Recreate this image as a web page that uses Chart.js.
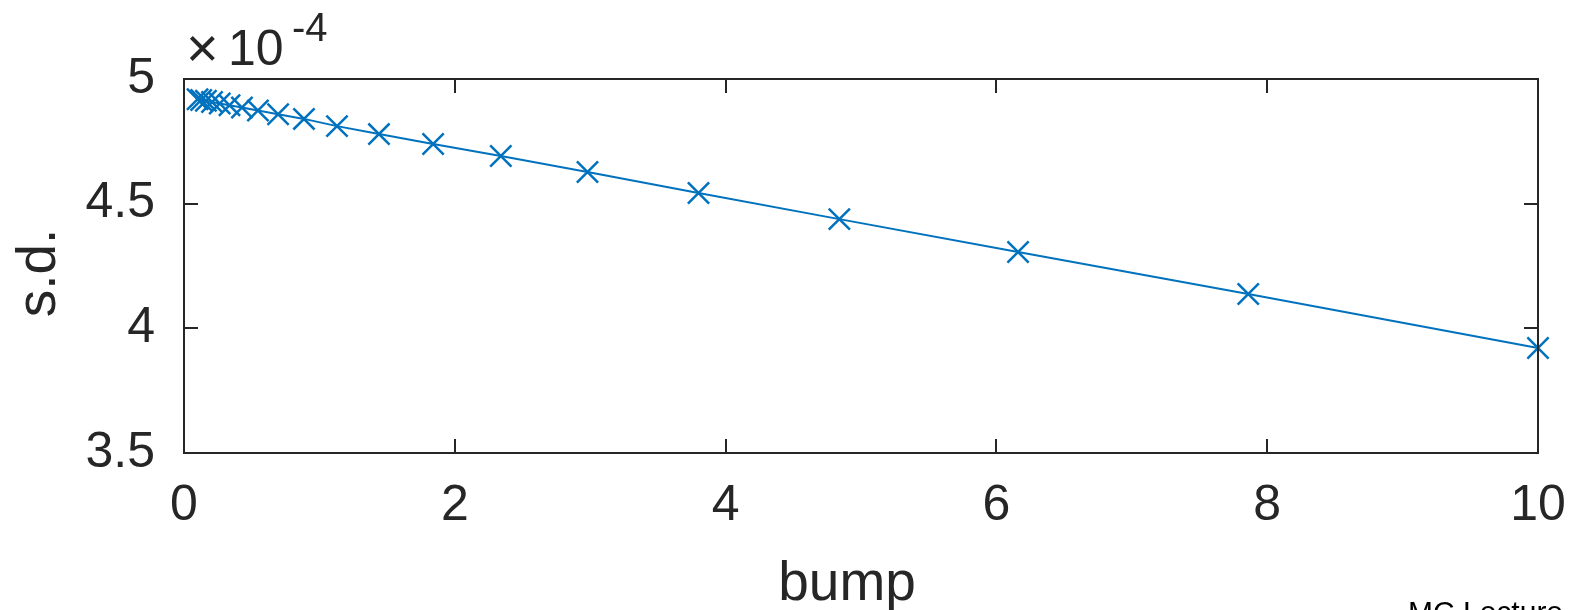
<!DOCTYPE html>
<html><head><meta charset="utf-8">
<script src="https://cdn.jsdelivr.net/npm/chart.js@4.4.1/dist/chart.umd.min.js"></script>
<style>html,body{margin:0;padding:0;background:#fff;overflow:hidden}#wrap{width:1570px;height:610px;position:relative}</style>
</head><body><div id="wrap"><canvas id="c" width="1570" height="610"></canvas></div>
<script>
// bump values (x) and standard deviation in units of 1e-4 (y)
const bump = [0.100, 0.127, 0.162, 0.207, 0.264, 0.336, 0.428, 0.546, 0.695, 0.886, 1.13, 1.44, 1.84, 2.34, 2.98, 3.80, 4.84, 6.16, 7.86, 10.0];
const sdE4 = [4.919, 4.916, 4.913, 4.908, 4.902, 4.895, 4.886, 4.874, 4.859, 4.840, 4.811, 4.779, 4.739, 4.691, 4.627, 4.543, 4.438, 4.306, 4.138, 3.921];
const xTicks = [0, 2, 4, 6, 8, 10];
const yTicks = [3.5, 4, 4.5, 5];
const xTitle = 'bump';
const yTitle = 's.d.';
const expBase = '10';
const expPow = '-4';
const footText = 'MC Lecture';

const TXT = '#262626';
const BLUE = '#0072BD';
const FONT = '"Liberation Sans", Arial, Helvetica, sans-serif';

const frame = {
  id: 'frame',
  afterDatasetsDraw(chart) {
    const {ctx, chartArea: a, scales: {x, y}} = chart;
    ctx.save();
    ctx.strokeStyle = TXT;
    ctx.lineWidth = 2;
    ctx.beginPath();
    const L = 14;
    xTicks.forEach(v => {
      const px = Math.round(x.getPixelForValue(v));
      ctx.moveTo(px, a.bottom); ctx.lineTo(px, a.bottom - L);
      ctx.moveTo(px, a.top); ctx.lineTo(px, a.top + L);
    });
    yTicks.forEach(v => {
      const py = Math.round(y.getPixelForValue(v));
      ctx.moveTo(a.left, py); ctx.lineTo(a.left + L, py);
      ctx.moveTo(a.right, py); ctx.lineTo(a.right - L, py);
    });
    ctx.stroke();
    ctx.strokeRect(a.left, a.top, a.right - a.left, a.bottom - a.top);
    ctx.restore();
  },
  afterDraw(chart) {
    const {ctx} = chart;
    ctx.save();
    ctx.fillStyle = TXT;
    ctx.textBaseline = 'alphabetic';
    // x axis title
    ctx.font = '55px ' + FONT;
    ctx.textAlign = 'center';
    ctx.fillText(xTitle, 847, 600);
    // y axis title
    ctx.save();
    ctx.translate(55, 273);
    ctx.rotate(-Math.PI / 2);
    ctx.fillText(yTitle, 0, 0);
    ctx.restore();
    // exponent
    ctx.textAlign = 'left';
    ctx.font = '56px ' + FONT;
    ctx.fillText('\u00d7', 186, 67);
    ctx.font = '50px ' + FONT;
    ctx.fillText(expBase, 228, 65);
    ctx.font = '40px ' + FONT;
    ctx.fillText(expPow, 292, 41);
    // footer (cut by the edge)
    ctx.fillStyle = '#000';
    ctx.font = '30px ' + FONT;
    ctx.fillText(footText, 1408, 622);
    ctx.restore();
  }
};

new Chart(document.getElementById('c'), {
  type: 'scatter',
  data: {
    datasets: [{
      data: bump.map((b, i) => ({x: b, y: sdE4[i]})),
      showLine: true,
      borderColor: BLUE,
      backgroundColor: BLUE,
      borderWidth: 2,
      pointStyle: 'crossRot',
      pointRadius: 15,
      pointBorderWidth: 2.5,
      pointBorderColor: BLUE,
      pointHoverRadius: 15,
      clip: false
    }]
  },
  options: {
    responsive: false,
    devicePixelRatio: 1,
    animation: false,
    events: [],
    layout: {padding: {top: 79, right: 32, left: 0, bottom: 0}},
    plugins: {legend: {display: false}, tooltip: {enabled: false}},
    scales: {
      x: {
        type: 'linear', min: 0, max: 10,
        afterFit(s) { s.height = 157; s.paddingLeft = 0; s.paddingRight = 0; },
        afterBuildTicks(s) { s.ticks = xTicks.map(v => ({value: v})); },
        border: {display: false},
        grid: {display: false, drawTicks: false},
        ticks: {color: TXT, padding: 28, maxRotation: 0, font: {family: FONT, size: 50, lineHeight: 1}, callback: v => String(v)}
      },
      y: {
        type: 'linear', min: 3.5, max: 5,
        afterFit(s) { s.width = 184; s.paddingTop = 0; s.paddingBottom = 0; },
        afterBuildTicks(s) { s.ticks = yTicks.map(v => ({value: v})); },
        border: {display: false},
        grid: {display: false, drawTicks: false},
        ticks: {color: TXT, padding: 29, font: {family: FONT, size: 50, lineHeight: 1}, callback: v => String(v)}
      }
    }
  },
  plugins: [frame]
});
</script>
</body></html>
